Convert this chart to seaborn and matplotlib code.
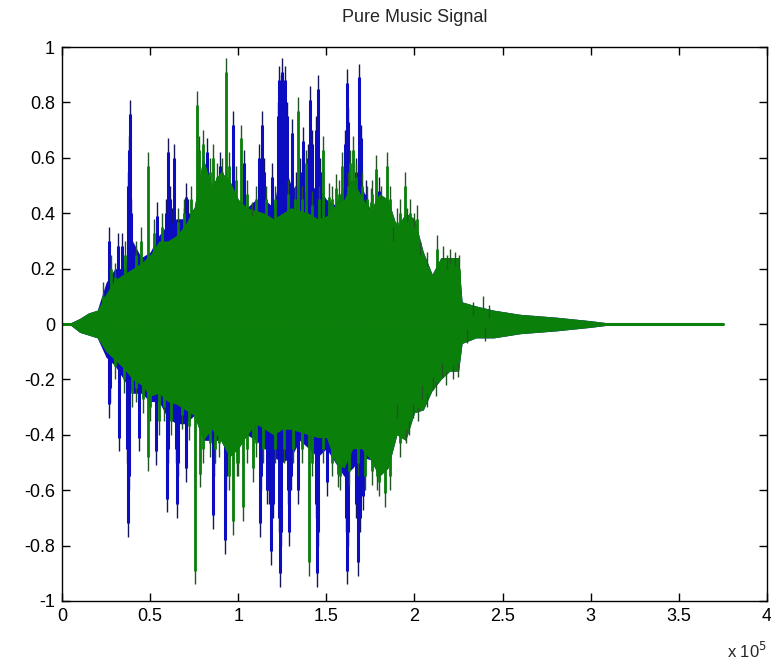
import numpy as np
import matplotlib
matplotlib.use("Agg")
import matplotlib.pyplot as plt
import seaborn as sns

# ---- data (x in units of 1e5 samples) ----
env_x = [0.00, 0.05, 0.10, 0.15, 0.20, 0.25, 0.30, 0.35, 0.40, 0.45, 0.50, 0.55, 0.60, 0.65,
         0.70, 0.75, 0.80, 0.85, 0.90, 0.95, 1.00, 1.05, 1.10, 1.15, 1.20, 1.25, 1.30, 1.35,
         1.40, 1.45, 1.50, 1.55, 1.60, 1.65, 1.70, 1.75, 1.80, 1.85, 1.90, 1.95, 2.00, 2.05,
         2.10, 2.15, 2.20, 2.25, 2.27, 2.35, 2.45, 2.60, 2.80, 3.00, 3.10, 3.75]
green_top = [0.0, 0.005, 0.02, 0.04, 0.05, 0.11, 0.16, 0.18, 0.20, 0.22, 0.25, 0.30, 0.30, 0.32,
             0.36, 0.42, 0.60, 0.50, 0.55, 0.52, 0.45, 0.42, 0.41, 0.40, 0.38, 0.40, 0.42, 0.41,
             0.40, 0.38, 0.39, 0.43, 0.45, 0.52, 0.46, 0.41, 0.47, 0.45, 0.35, 0.40, 0.38, 0.26,
             0.18, 0.24, 0.24, 0.24, 0.08, 0.065, 0.05, 0.035, 0.025, 0.012, 0.004, 0.003]
green_bot = [0.0, -0.005, -0.03, -0.04, -0.05, -0.10, -0.13, -0.16, -0.20, -0.22, -0.26, -0.25, -0.28, -0.29,
             -0.31, -0.33, -0.42, -0.38, -0.42, -0.48, -0.45, -0.40, -0.36, -0.38, -0.40, -0.38, -0.38, -0.39,
             -0.40, -0.41, -0.41, -0.50, -0.52, -0.45, -0.45, -0.49, -0.55, -0.52, -0.40, -0.42, -0.32, -0.31,
             -0.24, -0.20, -0.17, -0.17, -0.07, -0.05, -0.05, -0.035, -0.025, -0.012, -0.004, -0.003]
blue_top = [0.0, 0.005, 0.02, 0.04, 0.05, 0.15, 0.20, 0.20, 0.30, 0.24, 0.26, 0.32, 0.36, 0.38,
            0.38, 0.42, 0.60, 0.50, 0.55, 0.52, 0.45, 0.42, 0.45, 0.45, 0.42, 0.60, 0.50, 0.48,
            0.48, 0.50, 0.45, 0.43, 0.50, 0.52, 0.50, 0.41, 0.47, 0.45, 0.35, 0.40, 0.38, 0.26,
            0.18, 0.24, 0.24, 0.24, 0.08, 0.065, 0.05, 0.035, 0.025, 0.012, 0.004, 0.003]
blue_bot = [0.0, -0.005, -0.03, -0.04, -0.05, -0.12, -0.15, -0.20, -0.25, -0.25, -0.28, -0.28, -0.34, -0.36,
            -0.36, -0.33, -0.42, -0.42, -0.42, -0.48, -0.45, -0.40, -0.42, -0.45, -0.48, -0.50, -0.48, -0.42,
            -0.45, -0.48, -0.45, -0.50, -0.55, -0.52, -0.48, -0.49, -0.55, -0.52, -0.40, -0.42, -0.32, -0.31,
            -0.24, -0.20, -0.17, -0.17, -0.07, -0.05, -0.05, -0.035, -0.025, -0.012, -0.004, -0.003]

blue_up_x = [0.267, 0.318, 0.340, 0.372, 0.380, 0.386, 0.392, 0.539, 0.590, 0.601, 0.610, 0.625,
             0.635, 0.690, 0.704, 0.715, 0.823, 0.896, 0.970, 1.033, 1.115, 1.135, 1.145, 1.191,
             1.225, 1.231, 1.240, 1.248, 1.255, 1.265, 1.275, 1.305, 1.330, 1.350, 1.367, 1.395,
             1.407, 1.420, 1.440, 1.452, 1.465, 1.605, 1.617, 1.625, 1.670, 1.685, 1.695, 1.725, 1.799]
blue_up_y = [0.35, 0.33, 0.33, 0.55, 0.68, 0.81, 0.45, 0.44, 0.45, 0.67, 0.50, 0.42,
             0.65, 0.42, 0.51, 0.45, 0.67, 0.62, 0.77, 0.63, 0.65, 0.77, 0.60, 0.58,
             0.80, 0.93, 0.90, 0.96, 0.88, 0.93, 0.80, 0.74, 0.55, 0.60, 0.71, 0.65,
             0.86, 0.70, 0.75, 0.90, 0.60, 0.70, 0.92, 0.78, 0.60, 0.94, 0.72, 0.52, 0.53]

green_up_x = [0.233, 0.280, 0.300, 0.360, 0.420, 0.450, 0.488, 0.520, 0.570, 0.660, 0.690, 0.730,
              0.766, 0.780, 0.800, 0.840, 0.857, 0.880, 0.910, 0.930, 0.950, 0.987, 1.016, 1.050,
              1.078, 1.100, 1.160, 1.210, 1.280, 1.320, 1.339, 1.360, 1.384, 1.420, 1.460, 1.481,
              1.515, 1.530, 1.555, 1.570, 1.589, 1.620, 1.634, 1.651, 1.670, 1.700, 1.730, 1.753,
              1.760, 1.782, 1.810, 1.844, 1.860, 1.878, 1.900, 1.920, 1.946, 1.960, 1.974, 2.000,
              2.014, 2.030, 2.070, 2.128, 2.160, 2.184, 2.200, 2.230, 2.250, 2.330, 2.389, 2.420]
green_up_y = [0.15, 0.25, 0.22, 0.30, 0.30, 0.35, 0.62, 0.38, 0.40, 0.42, 0.45, 0.50,
              0.84, 0.68, 0.70, 0.60, 0.65, 0.58, 0.60, 0.96, 0.62, 0.57, 0.72, 0.52,
              0.44, 0.50, 0.50, 0.50, 0.52, 0.50, 0.82, 0.50, 0.63, 0.48, 0.50, 0.68,
              0.51, 0.50, 0.54, 0.52, 0.62, 0.55, 0.63, 0.68, 0.58, 0.55, 0.50, 0.49,
              0.52, 0.61, 0.50, 0.62, 0.50, 0.35, 0.42, 0.45, 0.55, 0.42, 0.45, 0.40,
              0.43, 0.30, 0.26, 0.32, 0.28, 0.25, 0.27, 0.26, 0.25, 0.08, 0.10, 0.07]

blue_dn_x = [0.267, 0.275, 0.324, 0.370, 0.374, 0.380, 0.437, 0.533, 0.596, 0.600, 0.645, 0.652,
             0.660, 0.704, 0.857, 0.865, 0.925, 0.930, 1.123, 1.130, 1.163, 1.175, 1.186, 1.195,
             1.230, 1.237, 1.245, 1.280, 1.288, 1.300, 1.339, 1.440, 1.447, 1.455, 1.504, 1.610,
             1.617, 1.625, 1.670, 1.679, 1.690, 1.708]
blue_dn_y = [-0.34, -0.28, -0.46, -0.50, -0.77, -0.60, -0.46, -0.51, -0.68, -0.50, -0.50, -0.70,
             -0.55, -0.57, -0.74, -0.55, -0.83, -0.60, -0.77, -0.60, -0.65, -0.65, -0.87, -0.70,
             -0.75, -0.95, -0.80, -0.65, -0.80, -0.60, -0.65, -0.70, -0.95, -0.80, -0.62, -0.75,
             -0.94, -0.80, -0.70, -0.91, -0.75, -0.67]

green_dn_x = [0.300, 0.350, 0.397, 0.420, 0.460, 0.488, 0.500, 0.550, 0.580, 0.620, 0.680, 0.720,
              0.755, 0.783, 0.800, 0.840, 0.870, 0.891, 0.950, 0.970, 0.993, 1.000, 1.027, 1.050,
              1.084, 1.100, 1.140, 1.210, 1.260, 1.310, 1.360, 1.401, 1.420, 1.480, 1.530, 1.566,
              1.580, 1.630, 1.680, 1.720, 1.760, 1.787, 1.800, 1.833, 1.860, 1.901, 1.920, 1.952,
              1.970, 1.991, 2.020, 2.043, 2.070, 2.105, 2.120, 2.156, 2.180, 2.220, 2.247, 2.300, 2.400]
green_dn_y = [-0.20, -0.25, -0.30, -0.28, -0.32, -0.53, -0.35, -0.40, -0.35, -0.40, -0.38, -0.42,
              -0.94, -0.59, -0.50, -0.48, -0.50, -0.48, -0.60, -0.76, -0.55, -0.55, -0.71, -0.50,
              -0.57, -0.48, -0.50, -0.50, -0.50, -0.50, -0.50, -0.91, -0.55, -0.50, -0.55, -0.59,
              -0.60, -0.58, -0.55, -0.60, -0.58, -0.60, -0.62, -0.66, -0.60, -0.34, -0.48, -0.43,
              -0.40, -0.34, -0.35, -0.27, -0.30, -0.24, -0.26, -0.19, -0.22, -0.20, -0.19, -0.07, -0.06]

x_ticks = [0, 0.5, 1, 1.5, 2, 2.5, 3, 3.5, 4]
x_labels = ["0", "0.5", "1", "1.5", "2", "2.5", "3", "3.5", "4"]
y_ticks = [-1, -0.8, -0.6, -0.4, -0.2, 0, 0.2, 0.4, 0.6, 0.8, 1]
y_labels = ["-1", "-0.8", "-0.6", "-0.4", "-0.2", "0", "0.2", "0.4", "0.6", "0.8", "1"]

# ---- drawing ----
sns.set_theme(style="ticks")
plt.rcParams['font.family'] = ['Liberation Sans', 'DejaVu Sans']

BLUE = "#0c0cc0"
BLUE_DARK = "#15155a"
GREEN = "#0a800a"
GREEN_DARK = "#235423"

fig = plt.figure(figsize=(7.71, 6.68), dpi=100)
fig.patch.set_facecolor("white")
ax = fig.add_axes([0.0804, 0.1003, 0.9144, 0.8293])
ax.set_facecolor("white")


def spikes(xs, ys, color, dark, lw, z):
    ys = np.asarray(ys)
    tip = np.sign(ys) * 0.05
    ax.vlines(xs, 0, ys, color=dark, lw=1.0, zorder=z)
    ax.vlines(xs, 0, ys - tip, color=color, lw=lw, zorder=z + 0.1)


# blue channel (behind)
ax.fill_between(env_x, blue_bot, blue_top, color=BLUE, lw=0, zorder=1)
spikes(blue_up_x, blue_up_y, BLUE, BLUE_DARK, 2.2, 1.2)
spikes(blue_dn_x, blue_dn_y, BLUE, BLUE_DARK, 2.2, 1.2)

# green channel (front)
ax.fill_between(env_x, green_bot, green_top, color=GREEN, lw=0, zorder=2)
sns.lineplot(x=env_x, y=np.zeros(len(env_x)), color=GREEN, lw=2.2, ax=ax, zorder=2)
spikes(green_up_x, green_up_y, GREEN, GREEN_DARK, 2.0, 3)
spikes(green_dn_x, green_dn_y, GREEN, GREEN_DARK, 2.0, 3)

ax.set_xlim(0, 4)
ax.set_ylim(-1, 1)
ax.set_xticks(x_ticks)
ax.set_xticklabels(x_labels)
ax.set_yticks(y_ticks)
ax.set_yticklabels(y_labels)
ax.tick_params(direction="in", length=6, width=1, top=True, right=True,
               labelsize=13, colors="black", pad=5)
for s in ax.spines.values():
    s.set_visible(True)
    s.set_color("black")
    s.set_linewidth(1)
ax.grid(False)
ax.set_xlabel("")
ax.set_ylabel("")
ax.set_title("Pure Music Signal", fontsize=13, pad=18)
ax.text(1.0, -0.09, r"x 10$^{5}$", transform=ax.transAxes, ha="right", va="center",
        fontsize=12)

fig.savefig("out.png", dpi=100, facecolor="white")
